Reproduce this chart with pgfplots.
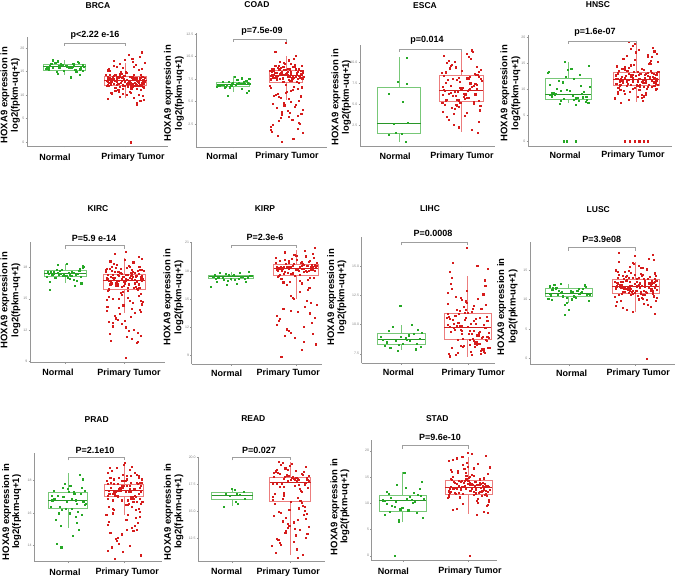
\documentclass[border=0pt]{standalone}
\usepackage{fontspec}
\setmainfont{Liberation Sans}
\usepackage{pgfplots}
\pgfplotsset{compat=1.18}
\usepgfplotslibrary{statistics}
\definecolor{ptgreen}{RGB}{38,168,38}
\definecolor{ptred}{RGB}{214,28,28}
\definecolor{bxgreen}{RGB}{120,200,120}
\definecolor{bxred}{RGB}{236,125,125}
\definecolor{mdgreen}{RGB}{40,150,40}
\definecolor{mdred}{RGB}{205,30,30}
\definecolor{axgray}{RGB}{150,150,150}
\pgfplotsset{
 panel/.style={scale only axis, anchor=south west,
   axis x line*=bottom, axis y line*=left,
   axis line style={axgray, line width=0.6pt, -},
   every tick/.style={axgray, line width=0.4pt},
   major tick length=1.5pt, tick align=outside,
   xtick={1,2}, xticklabels={,,},
   yticklabel style={font=\fontsize{3.5}{4}\selectfont, text=gray, inner sep=1pt},
   clip=false},
 nb/.style={draw=bxgreen, line width=0.6pt, boxplot/every median/.style={draw=mdgreen, line width=0.8pt}},
 tb/.style={draw=bxred, line width=0.6pt, boxplot/every median/.style={draw=mdred, line width=0.8pt}},
 npts/.style={only marks, mark=square*, mark size=0.55pt, color=ptgreen, mark options={line width=0.05pt}},
 tpts/.style={only marks, mark=square*, mark size=0.55pt, color=ptred, mark options={line width=0.05pt}},
}
\newcommand{\nbox}[6]{\addplot[nb, boxplot prepared={draw direction=y, draw position=1, median=#1, lower quartile=#2, upper quartile=#3, lower whisker=#4, upper whisker=#5, box extend=#6, whisker extend=0}] coordinates {};}
\newcommand{\tbox}[6]{\addplot[tb, boxplot prepared={draw direction=y, draw position=2, median=#1, lower quartile=#2, upper quartile=#3, lower whisker=#4, upper whisker=#5, box extend=#6, whisker extend=0}] coordinates {};}
\begin{document}
\begin{tikzpicture}
\useasboundingbox (0,0) rectangle (676pt,-577pt);

% ---------------- BRCA
\begin{axis}[panel, at={(27pt,-146pt)}, width=141pt, height=109pt, xmin=0.385, xmax=2.70, ymin=-0.85, ymax=22.3, ytick={0,5,10,15,20}, yticklabels={0,5,10,15,20}]
\nbox{16.0}{15.3}{16.6}{14.3}{17.4}{0.70}
\tbox{13.0}{12.1}{14.0}{9.3}{16.8}{0.70}
\addplot[npts] coordinates {(0.72,16.1)(1.11,15.8)(0.96,16.4)(1.25,15.5)(0.83,16.9)(1.06,16.0)(1.30,15.2)(0.78,16.6)(1.15,16.2)(0.91,15.9)(1.21,17.1)(0.69,15.6)(1.02,16.3)(0.87,14.9)(1.27,16.0)(0.94,16.7)(1.18,15.4)(0.75,16.2)(1.08,15.8)(0.81,17.4)(1.29,16.5)(0.99,15.1)(1.13,16.1)(0.73,15.7)(1.23,16.8)(0.89,14.6)(1.04,16.3)(0.80,15.9)(1.31,16.0)(0.93,16.5)(1.16,15.3)(0.76,16.2)(1.10,13.8)(0.85,16.9)(1.26,15.6)(0.97,16.4)(1.19,15.0)(0.71,16.1)(1.07,15.8)(0.88,17.2)(1.14,16.6)(0.74,15.5)(1.03,16.0)(1.24,14.3)(0.90,16.3)};
\addplot[tpts] coordinates {(1.72,13.2)(2.11,12.5)(1.96,13.8)(2.25,12.1)(1.83,14.3)(2.06,12.9)(2.30,11.6)(1.78,13.5)(2.15,12.7)(1.91,14.0)
(2.21,13.1)(1.69,11.9)(2.02,12.4)(1.87,13.7)(2.27,12.2)(1.94,14.5)(2.18,13.0)(1.75,12.6)(2.08,11.3)(1.81,13.4)
(2.29,12.8)(1.99,14.1)(2.13,12.0)(1.73,13.6)(2.23,12.3)(1.89,13.9)(2.04,11.7)(1.80,13.3)(2.31,12.9)(1.93,14.6)
(2.16,12.5)(1.76,13.0)(2.10,11.4)(1.85,13.8)(2.26,12.7)(1.97,14.2)(2.19,12.1)(1.71,13.5)(2.07,12.4)(1.88,11.1)
(2.14,13.2)(1.74,14.4)(2.03,12.6)(2.24,13.7)(1.90,11.8)(1.70,12.9)(2.19,13.4)(1.95,12.2)(2.28,14.0)(1.82,13.1)
(2.09,11.5)(1.77,12.8)(2.32,13.6)(1.86,12.3)(2.01,14.7)(2.20,13.0)(1.72,12.0)(2.12,13.3)(1.92,12.6)(2.25,11.2)
(1.79,13.9)(2.05,12.4)(2.17,13.5)(1.68,14.3)(2.22,12.7)(1.98,11.9)(1.84,13.1)(2.29,12.5)(1.89,13.8)(2.08,12.1)
(1.74,15.2)(2.14,16.0)(2.27,15.6)(1.81,17.3)(2.00,14.9)(1.91,16.6)(2.23,18.2)(1.70,15.3)(2.11,17.8)(1.96,15.9)
(1.80,16.3)(2.26,19.1)(1.92,15.0)(2.12,17.0)(2.31,16.8)(1.73,15.5)(2.05,18.6)(1.86,16.1)(2.21,15.4)(1.98,17.5)
(2.16,16.4)(1.70,15.1)(2.09,10.6)(2.28,9.8)(1.83,10.9)(1.95,10.2)(2.24,8.9)(1.77,10.4)(2.13,9.5)(1.89,10.8)
(2.02,10.0)(2.30,9.1)(1.75,10.5)(2.18,8.3)(1.91,9.7)(2.07,10.7)(1.71,9.3)(2.22,10.1)(2.19,7.9)(2.08,0.0)
(1.77,13.4)(2.03,12.2)(2.26,13.9)(1.86,12.8)(2.12,11.8)(1.94,13.1)(2.30,12.6)(1.71,12.3)(2.07,14.0)(1.83,11.6)
(2.18,13.7)(1.98,12.9)(2.22,11.9)(1.75,13.2)(2.09,12.7)(1.90,14.2)(2.29,13.3)(1.80,12.4)(2.15,13.6)(1.96,11.4)};
\addplot[tpts] coordinates {(1.73,12.7)(2.08,13.9)(2.27,12.4)(1.85,13.3)(2.16,12.0)(1.93,13.6)(2.31,13.0)(1.69,13.1)(2.04,11.9)(1.80,14.1)
(2.20,12.8)(1.97,13.4)(2.25,14.3)(1.76,12.2)(2.11,13.8)(1.88,12.5)(2.29,11.7)(1.71,14.0)(2.02,13.2)(1.84,11.5)
(2.14,14.4)(1.95,12.1)(2.23,13.5)(1.78,12.9)(2.06,12.6)(1.90,14.6)(2.18,11.3)(1.74,13.7)(2.10,12.3)(1.99,13.0)};
\end{axis}

% ---------------- COAD
\begin{axis}[panel, at={(196pt,-147pt)}, width=131pt, height=114pt, xmin=0.30, xmax=2.77, ymin=-0.06, ymax=12.6, ytick={2.5,5,7.5,10,12.5}, yticklabels={2.5,5.0,7.5,10.0,12.5}]
\nbox{6.94}{6.72}{7.17}{6.0}{7.8}{0.62}
\tbox{7.9}{7.13}{8.42}{5.2}{10.0}{0.62}
\addplot[npts] coordinates {(0.72,6.9)(1.11,7.1)(0.96,6.8)(1.25,7.3)(0.83,6.6)(1.06,7.0)(1.30,7.5)(0.78,6.9)(1.15,6.4)(0.91,7.2)(1.21,7.0)(0.69,6.7)(1.02,7.8)(0.87,6.9)(1.27,7.1)(0.94,6.5)(1.18,7.0)(0.75,6.8)(1.08,7.4)(0.81,6.9)(1.29,6.2)(0.99,7.1)(1.13,7.0)(0.73,6.8)(1.23,7.3)(0.89,5.7)(1.04,6.9)(0.80,7.2)(1.31,7.0)(0.93,6.6)(1.16,7.6)(0.76,6.9)(1.10,7.1)(0.85,6.7)(1.26,6.0)(0.97,7.0)(1.19,7.2)(0.71,6.8)(1.07,7.4)(0.88,6.9)};
\addplot[tpts] coordinates {(1.72,8.0)(2.11,7.6)(1.96,8.5)(2.25,7.9)(1.83,8.8)(2.06,7.3)(2.30,8.2)(1.78,7.7)(2.15,9.1)(1.91,8.1)(2.21,7.5)(1.69,8.4)(2.02,7.8)(1.87,9.4)(2.27,8.0)(1.94,7.2)(2.18,8.6)(1.75,7.9)(2.08,8.3)(1.81,7.4)(2.29,9.0)(1.99,8.1)(2.13,7.7)(1.73,8.7)(2.23,7.1)(1.89,8.2)(2.04,9.6)(1.80,7.8)(2.31,8.4)(1.93,7.6)(2.16,8.9)(1.76,8.0)(2.10,7.3)(1.85,8.5)(2.26,7.9)(1.97,9.2)(2.19,8.2)(1.71,7.5)(2.07,8.6)(1.88,8.1)
(2.14,9.8)(1.74,7.7)(2.03,8.3)(2.24,7.9)(1.90,8.8)(1.70,7.4)(2.19,8.0)(1.95,9.3)(2.28,8.4)(1.82,7.6)(2.09,8.1)(1.77,8.7)(2.32,7.8)(1.86,9.0)(2.01,8.2)(2.20,7.2)(1.72,8.5)(2.12,7.9)(1.92,8.3)(2.25,7.7)
(1.79,10.5)(1.98,11.5)(2.17,10.1)
(1.68,6.8)(2.22,6.4)(1.98,6.9)(1.84,5.9)(2.29,6.6)(1.89,5.4)(2.08,6.2)(1.74,4.8)(2.14,6.7)(2.27,5.6)(1.81,4.3)(2.00,6.1)(1.91,3.6)(2.23,5.1)(1.70,6.5)(2.11,3.0)(1.96,4.6)
(1.80,5.8)(2.26,2.5)(1.92,3.9)(2.12,6.3)(2.31,4.1)(1.73,1.7)(2.05,5.3)(1.86,2.9)(2.21,3.4)(1.98,6.0)(2.16,4.4)(1.70,2.2)(2.09,5.0)(2.28,3.7)(1.83,1.2)(1.95,4.9)(2.24,2.7)(1.77,5.7)(2.13,0.9)(1.89,3.2)(2.02,4.0)(2.30,1.5)(1.75,2.4)(2.18,4.7)(1.91,0.5)(2.07,3.8)(1.71,1.9)(2.22,2.0)(1.85,5.5)(2.04,3.3)
(1.78,8.2)(2.06,7.8)(2.24,8.6)(1.88,7.5)(2.12,8.9)(1.96,8.0)(2.29,7.6)(1.73,8.3)(2.02,8.7)(1.84,7.9)};
\addplot[tpts] coordinates {(1.76,8.4)(2.12,7.7)(2.28,8.1)(1.88,8.6)(2.05,7.4)(1.94,8.9)(2.21,8.3)(1.70,7.9)(2.09,9.2)(1.82,8.2)
(2.17,7.8)(1.99,8.5)(2.30,7.5)(1.79,9.0)(2.02,8.0)};
\end{axis}

% ---------------- ESCA
\begin{axis}[panel, at={(360pt,-146pt)}, width=135pt, height=101pt, xmin=0.376, xmax=2.54, ymin=0.06, ymax=12.0, ytick={2.5,5,7.5,10}, yticklabels={2.5,5.0,7.5,10.0}]
\nbox{2.74}{1.56}{6.99}{0.56}{10.6}{0.70}
\tbox{6.67}{5.29}{8.40}{1.74}{11.4}{0.70}
\addplot[npts] coordinates {(1.12,10.53)(0.84,6.28)(0.98,7.65)(1.12,7.45)(1.06,5.37)(0.83,1.44)(0.95,1.63)(1.04,1.56)(1.10,0.56)(0.92,2.70)(1.14,2.80)};
\addplot[tpts] coordinates {(1.72,6.7)(2.11,8.1)(1.96,5.5)(2.25,7.3)(1.83,9.6)(2.06,6.2)(2.30,4.8)(1.78,7.9)(2.15,10.4)(1.91,6.0)
(2.21,8.6)(1.69,5.2)(2.02,7.0)(1.87,3.9)(2.27,8.9)(1.94,6.5)(2.18,11.2)(1.75,7.6)(2.08,5.8)(1.81,9.2)
(2.29,4.4)(1.99,6.9)(2.13,8.3)(1.73,5.0)(2.23,7.4)(1.89,10.0)(2.04,6.3)(1.80,3.2)(2.31,8.0)(1.93,5.6)
(2.16,7.1)(1.76,9.9)(2.10,6.6)(1.85,4.6)(2.26,8.5)(1.97,7.7)(2.19,5.3)(1.71,10.8)(2.07,6.1)(1.88,2.6)
(2.14,7.5)(1.74,8.8)(2.03,5.9)(2.24,6.8)(1.90,9.4)(1.70,4.1)(2.19,7.2)(1.95,8.2)(2.28,5.4)(1.82,6.4)
(2.09,11.0)(1.77,3.5)(2.32,7.8)(1.86,6.0)(2.01,9.0)(2.20,5.1)(1.72,8.4)(2.12,6.7)(1.92,4.9)(2.25,7.3)
(1.79,10.2)(2.05,5.7)(2.17,2.0)(1.68,8.7)(2.22,6.2)(1.98,7.0)(1.84,9.7)(2.29,4.3)(1.89,6.5)(2.08,8.1)
(1.74,5.5)(2.14,7.6)(2.27,3.0)(1.81,9.3)(2.00,6.9)(1.91,5.0)(2.23,8.5)(1.70,7.1)(2.11,10.6)(1.96,4.7)
(1.80,6.3)(2.26,1.7)(1.92,7.9)(2.12,5.8)(2.31,9.1)(1.73,6.6)(2.05,3.7)(1.86,8.0)(2.21,7.4)(1.98,5.2)
(2.16,11.4)(1.70,6.1)(2.09,4.0)(2.28,8.3)(1.83,7.2)(1.95,2.3)(2.24,9.5)(1.77,5.6)(2.13,6.8)(1.89,4.5)};
\end{axis}

% ---------------- HNSC
\begin{axis}[panel, at={(528pt,-146pt)}, width=144pt, height=111pt, xmin=0.407, xmax=2.525, ymin=-0.97, ymax=20.5, ytick={0,5,10,15,20}, yticklabels={0,5,10,15,20}]
\nbox{9.0}{8.07}{12.05}{7.3}{15.3}{0.68}
\tbox{11.86}{10.8}{13.3}{7.6}{18.9}{0.68}
\addplot[npts] coordinates {(0.72,9.0)(1.11,8.3)(0.96,12.5)(1.25,7.6)(0.83,10.2)(1.06,8.8)(1.30,14.6)(0.78,9.4)(1.15,7.9)(0.91,11.4)
(1.21,8.5)(0.69,13.2)(1.02,9.8)(0.87,7.3)(1.27,8.1)(0.94,15.3)(1.18,10.8)(0.75,8.7)(1.08,12.0)(0.81,9.1)
(1.29,7.5)(0.99,13.8)(1.13,8.4)(0.73,11.0)(1.23,9.6)(0.89,7.8)(1.04,14.1)(0.80,8.9)(1.31,10.5)(0.93,8.2)
(1.16,12.8)(0.76,9.3)(1.10,7.1)(0.85,11.7)(1.26,8.6)(0.97,10.0)(1.19,9.2)(0.71,13.5)(1.07,8.0)(0.88,9.7)
(0.93,0)(0.97,0)(1.11,0)};
\addplot[tpts] coordinates {(1.72,12.1)(2.11,10.6)(1.96,14.8)(2.25,11.4)(1.83,9.2)(2.06,13.0)(2.30,16.9)(1.78,11.8)(2.15,10.1)(1.91,12.7)
(2.21,15.5)(1.69,11.1)(2.02,8.6)(1.87,13.6)(2.27,12.3)(1.94,18.4)(2.18,10.9)(1.75,11.6)(2.08,14.1)(1.81,9.7)
(2.29,12.9)(1.99,17.2)(2.13,11.3)(1.73,10.4)(2.23,13.3)(1.89,8.0)(2.04,12.0)(1.80,15.9)(2.31,11.0)(1.93,12.6)
(2.16,16.3)(1.76,9.9)(2.10,13.8)(1.85,11.5)(2.26,10.7)(1.97,18.9)(2.19,12.2)(1.71,14.5)(2.07,8.9)(1.88,11.9)
(2.14,13.1)(1.74,10.3)(2.03,17.7)(2.24,12.4)(1.90,9.5)(1.70,11.2)(2.19,15.1)(1.95,12.8)(2.28,10.0)(1.82,14.3)
(2.09,11.7)(1.77,7.5)(2.32,13.4)(1.86,16.6)(2.01,10.8)(2.20,12.5)(1.72,9.1)(2.12,11.3)(1.92,17.9)(2.25,12.0)
(1.79,14.0)(2.05,10.5)(2.17,13.2)(1.68,8.3)(2.22,11.8)(1.98,15.7)(1.84,12.6)(2.29,10.2)(1.89,19.2)(2.08,11.5)
(1.74,13.7)(2.14,9.3)(2.27,12.2)(1.81,16.0)(2.00,11.0)(1.91,14.7)(2.23,10.6)(1.70,12.9)(2.11,8.7)(1.96,13.5)
(1.80,11.4)(2.26,17.4)(1.92,10.9)(2.12,12.3)(2.31,15.3)(1.73,9.6)(2.05,13.0)(1.86,11.9)(2.21,14.9)(1.98,10.4)
(2.16,16.8)(1.70,12.7)(2.09,7.8)(2.28,11.1)(1.83,13.9)(1.95,10.1)(2.24,18.1)(1.77,12.1)(2.13,9.0)(1.89,14.2)
(2.02,11.6)(2.30,13.3)(1.75,10.7)(2.18,15.0)(1.91,12.4)(2.07,8.4)(1.71,11.2)(2.22,16.4)(1.85,13.6)(2.04,10.0)
(1.78,12.4)(2.10,11.9)(2.25,13.0)(1.87,11.2)(2.03,12.9)(1.94,11.6)(2.17,12.6)(1.72,13.2)(2.29,11.7)(1.83,12.2)
(1.83,0)(1.90,0)(1.97,0)(2.04,0)(2.11,0)(2.17,0)};
\addplot[tpts] coordinates {(1.76,11.0)(2.12,12.8)(2.28,11.5)(1.88,13.1)(2.05,10.9)(1.94,12.3)(2.21,13.6)(1.70,12.0)(2.09,11.3)(1.82,13.9)
(2.17,10.6)(1.99,12.6)(2.30,12.1)(1.79,11.7)(2.02,13.4)(1.86,10.8)(2.24,12.4)(1.73,13.0)(2.14,11.8)(1.91,12.9)};
\end{axis}

% ---------------- KIRC
\begin{axis}[panel, at={(30pt,-362.3pt)}, width=135pt, height=120.6pt, xmin=0.407, xmax=2.69, ymin=8.94, ymax=20.44, ytick={9,12,15,18}, yticklabels={9,12,15,18}]
\nbox{17.43}{17.17}{17.68}{16.5}{18.3}{0.71}
\tbox{16.72}{15.9}{17.36}{13.6}{18.86}{0.71}
\addplot[npts] coordinates {(0.72,17.4)(1.11,17.6)(0.96,17.2)(1.25,17.9)(0.83,17.0)(1.06,17.5)(1.30,18.2)(0.78,17.3)(1.15,16.8)(0.91,17.7)
(1.21,17.4)(0.69,17.1)(1.02,18.4)(0.87,17.5)(1.27,16.5)(0.94,17.8)(1.18,17.3)(0.75,17.6)(1.08,16.9)(0.81,17.4)
(1.29,18.0)(0.99,17.2)(1.13,17.5)(0.73,15.9)(1.23,17.7)(0.89,17.3)(1.04,17.0)(0.80,17.6)(1.31,18.1)(0.93,17.4)
(1.16,16.3)(0.76,17.5)(1.10,17.2)(0.85,17.8)(1.26,17.1)(0.97,17.4)(1.19,16.7)(0.71,17.6)(1.07,17.3)(0.88,18.3)
(1.14,17.5)(0.74,16.6)(1.03,17.2)(1.24,17.7)(0.90,17.4)};
\addplot[tpts] coordinates {(1.72,16.9)(2.11,17.5)(1.96,16.2)(2.25,18.1)(1.83,17.0)(2.06,15.8)(2.30,17.8)(1.78,16.5)(2.15,18.5)(1.91,17.2)
(2.21,16.0)(1.69,17.6)(2.02,16.7)(1.87,18.3)(2.27,17.1)(1.94,15.6)(2.18,16.8)(1.75,17.9)(2.08,16.4)(1.81,17.3)
(2.29,18.8)(1.99,16.6)(2.13,17.4)(1.73,15.9)(2.23,17.7)(1.89,16.3)(2.04,18.0)(1.80,17.0)(2.31,16.9)(1.93,17.5)
(2.16,16.1)(1.76,18.6)(2.10,17.2)(1.85,16.5)(2.26,17.8)(1.97,15.7)(2.19,17.1)(1.71,16.8)(2.07,18.2)(1.88,16.4)
(2.14,17.6)(1.74,16.0)(2.03,17.3)(2.24,19.0)(1.90,16.7)(1.70,17.9)(2.19,16.2)(1.95,17.4)(2.28,15.5)(1.82,18.4)
(2.09,17.0)(1.77,16.6)(2.32,17.7)(1.86,16.3)(2.01,18.7)(2.20,17.2)(1.72,15.8)(2.12,16.9)(1.92,17.5)(2.25,16.1)
(1.79,18.1)(2.05,17.3)(2.17,16.5)(1.68,17.8)(2.22,15.9)(1.98,17.1)(1.84,19.3)(2.29,16.7)(1.89,17.6)(2.08,16.4)
(1.74,15.2)(2.14,14.6)(2.27,13.8)(1.81,15.0)(2.00,12.9)(1.91,14.2)(2.23,11.8)(1.70,14.9)(2.11,13.3)(1.96,15.4)
(1.80,12.4)(2.26,14.0)(1.92,13.6)(2.12,11.2)(2.31,14.7)(1.73,12.8)(2.05,15.1)(1.86,13.1)(2.21,10.8)(1.98,14.4)
(2.16,12.1)(1.70,13.9)(2.09,14.8)(2.28,11.5)(1.83,13.4)(1.95,12.6)(2.24,15.3)(1.77,11.0)(2.13,14.1)(1.89,13.0)
(2.02,12.3)(2.30,14.5)(1.75,11.7)(2.18,13.7)(1.91,15.0)(2.07,12.0)(1.71,14.3)(2.22,10.9)(1.85,13.2)(2.04,11.4)
(2.27,14.8)(1.81,12.7)(2.03,19.5)(2.02,9.4)
(1.77,17.1)(2.06,16.8)(2.24,17.4)(1.87,16.6)(2.12,17.2)(1.95,16.9)(2.30,17.0)(1.72,17.3)(2.01,16.5)(1.84,17.6)};
\addplot[tpts] coordinates {(1.76,16.4)(2.12,17.8)(2.28,16.9)(1.88,17.3)(2.05,16.1)(1.94,17.9)(2.21,16.6)(1.70,17.0)(2.09,18.1)(1.82,16.8)
(2.17,17.5)(1.99,16.3)(2.30,17.2)(1.79,17.7)(2.02,16.9)(1.86,18.0)(2.24,16.4)(1.73,16.7)(2.14,17.1)(1.91,17.6)};
\end{axis}

% ---------------- KIRP
\begin{axis}[panel, at={(191.7pt,-364pt)}, width=130.3pt, height=122.3pt, xmin=0.395, xmax=2.40, ymin=8.07, ymax=21.1, ytick={9,12,15,18,21}, yticklabels={9,12,15,18,21}]
\nbox{17.36}{17.18}{17.54}{16.9}{17.9}{0.69}
\tbox{18.28}{17.47}{18.71}{15.0}{20.2}{0.69}
\addplot[npts] coordinates {(0.72,17.4)(1.11,17.2)(0.96,17.6)(1.25,17.3)(0.83,17.8)(1.06,17.1)(1.30,17.5)(0.78,16.9)(1.15,17.4)(0.91,17.7)
(1.21,17.2)(0.69,16.3)(1.02,17.5)(0.87,17.3)(1.27,17.9)(0.94,17.0)(1.18,17.4)(0.75,17.6)(1.08,16.6)(0.81,17.3)
(1.29,17.5)(0.99,17.2)(1.13,17.8)(0.73,17.4)(1.23,16.9)(0.89,17.1)(1.04,17.6)(0.80,17.3)(1.31,17.5)(0.93,16.5)
(1.16,17.4)(0.76,17.2)};
\addplot[tpts] coordinates {(1.72,18.3)(2.11,17.9)(1.96,18.8)(2.25,18.1)(1.83,19.2)(2.06,17.6)(2.30,18.5)(1.78,18.0)(2.15,19.6)(1.91,18.4)
(2.21,17.3)(1.69,18.9)(2.02,18.2)(1.87,17.8)(2.27,19.4)(1.94,18.6)(2.18,17.1)(1.75,18.3)(2.08,19.0)(1.81,17.7)
(2.29,18.7)(1.99,18.1)(2.13,20.2)(1.73,17.5)(2.23,18.4)(1.89,19.1)(2.04,18.0)(1.80,16.8)(2.31,18.6)(1.93,19.3)
(2.16,17.9)(1.76,18.2)(2.10,18.8)(1.85,16.5)(2.26,18.5)(1.97,19.7)(2.19,18.0)(1.71,17.4)(2.07,18.9)(1.88,18.3)
(2.14,19.5)(1.74,17.6)(2.03,18.1)(2.24,18.7)(1.90,16.9)(1.70,18.4)(2.19,19.0)(1.95,17.8)(2.28,18.6)(1.82,20.0)
(2.09,18.2)(1.77,17.2)(2.32,18.9)(1.86,18.5)(2.01,19.2)(2.20,16.2)(1.72,18.0)(2.12,18.7)(1.92,17.7)(2.25,19.8)
(1.79,18.3)(2.05,17.0)(2.17,18.6)(1.68,19.4)(2.22,18.1)(1.98,17.5)(1.84,18.8)(2.29,20.5)(1.89,18.4)(2.08,16.7)
(1.74,19.1)(2.14,18.0)(2.27,17.3)(1.81,18.5)(2.00,19.6)(1.91,15.4)(2.23,14.6)(1.70,13.2)(2.11,12.1)(1.96,15.0)
(1.80,14.0)(2.26,11.3)(1.92,13.8)(2.12,10.5)(2.31,14.4)(1.73,12.7)(2.05,15.8)(1.86,11.8)(2.21,13.5)(1.98,10.9)
(2.16,14.8)(1.70,12.3)(2.09,9.6)(2.28,13.0)(1.83,11.1)(1.95,15.2)(2.24,12.5)(1.77,8.9)(2.13,14.2)(1.89,11.6)
(2.02,13.7)(2.30,10.2)(1.75,12.9)(2.18,16.0)(1.91,11.4)};
\addplot[tpts] coordinates {(1.76,18.5)(2.12,18.2)(2.28,18.0)(1.88,18.9)(2.05,18.4)(1.94,17.7)(2.21,19.1)(1.70,18.1)(2.09,18.6)(1.82,17.9)};
\end{axis}

% ---------------- LIHC
\begin{axis}[panel, at={(361.7pt,-363.3pt)}, width=133.3pt, height=126.6pt, xmin=0.404, xmax=2.41, ymin=6.68, ymax=17.5, ytick={7.5,10,12.5,15}, yticklabels={7.5,10.0,12.5,15.0}]
\nbox{8.73}{8.30}{9.25}{7.8}{9.96}{0.71}
\tbox{9.76}{8.76}{10.96}{7.24}{14.15}{0.71}
\addplot[npts] coordinates {(0.72,8.7)(1.11,9.1)(0.96,8.3)(1.25,9.6)(0.83,8.0)(1.06,8.9)(1.30,9.3)(0.78,8.5)(1.15,10.0)(0.91,8.6)
(1.21,7.9)(0.69,9.0)(1.02,8.4)(0.87,9.8)(1.27,8.8)(0.94,7.8)(1.18,9.2)(0.75,8.2)(1.08,8.7)(0.81,9.5)
(1.29,8.1)(0.99,9.0)(1.13,8.6)(0.98,11.6)(1.23,8.4)};
\addplot[tpts] coordinates {(1.72,9.8)(2.11,8.4)(1.96,10.6)(2.25,7.6)(1.83,11.3)(2.06,9.2)(2.30,8.0)(1.78,10.1)(2.15,12.2)(1.91,9.5)
(2.21,7.9)(1.69,10.9)(2.02,8.7)(1.87,9.9)(2.27,11.7)(1.94,8.2)(2.18,9.4)(1.75,13.1)(2.08,10.3)(1.81,7.4)
(2.29,9.0)(1.99,11.0)(2.13,8.5)(1.73,10.5)(2.23,12.6)(1.89,9.6)(2.04,7.7)(1.80,10.8)(2.31,8.9)(1.93,11.5)
(2.16,9.3)(1.76,14.0)(2.10,8.1)(1.85,10.2)(2.26,9.7)(1.97,12.0)(2.19,7.5)(1.71,10.7)(2.07,8.8)(1.88,11.2)
(2.14,9.1)(1.74,13.5)(2.03,8.3)(2.24,10.0)(1.90,9.9)(1.70,11.8)(2.19,7.8)(1.95,10.4)(2.28,8.6)(1.82,12.4)
(2.09,9.5)(1.77,15.3)(2.32,8.0)(1.86,10.9)(2.01,9.2)(2.20,11.4)(1.72,7.3)(2.12,10.1)(1.92,8.8)(2.25,13.8)
(1.79,9.7)(2.05,11.1)(2.17,8.4)(1.68,10.6)(2.22,9.0)(1.98,12.9)(1.84,7.6)(2.29,10.3)(1.89,8.2)(2.08,11.6)
(1.74,9.4)(2.14,15.0)(2.27,8.7)(1.81,10.8)(2.00,9.8)(1.91,12.1)(2.23,7.9)(1.70,10.0)(2.11,8.5)(1.96,11.3)
(1.80,9.6)(2.26,13.3)(1.92,8.1)(2.12,10.5)(2.31,9.3)(1.73,14.5)(2.05,7.4)(1.86,10.2)(2.21,8.9)(1.98,11.9)
(2.16,9.1)(1.70,12.7)(2.09,8.6)(2.28,10.7)(1.83,9.9)(1.95,11.0)(2.24,7.7)(1.77,10.4)(2.13,8.3)(1.89,12.3)
(2.02,9.5)(2.30,14.8)(1.75,8.0)(2.18,10.6)(1.91,9.2)(2.07,11.4)(1.71,7.5)(1.98,16.6)(1.85,8.7)(2.04,10.1)};
\end{axis}

% ---------------- LUSC
\begin{axis}[panel, at={(530pt,-364pt)}, width=145pt, height=122.3pt, xmin=0.42, xmax=2.59, ymin=-0.9, ymax=19.8, ytick={0,5,10,15}, yticklabels={0,5,10,15}]
\nbox{10.98}{10.59}{11.89}{9.36}{12.7}{0.70}
\tbox{12.23}{11.15}{13.46}{7.9}{16.4}{0.70}
\addplot[npts] coordinates {(0.72,11.0)(1.11,11.6)(0.96,10.4)(1.25,12.2)(0.83,10.8)(1.06,11.3)(1.30,9.8)(0.78,12.5)(1.15,11.1)(0.91,10.6)
(1.21,11.8)(0.69,10.2)(1.02,11.4)(0.87,12.7)(1.27,10.9)(0.94,9.2)(1.18,11.2)(0.75,11.7)(1.08,10.5)(0.81,12.0)
(1.29,11.0)(0.99,8.3)(1.13,11.5)(0.73,10.7)(1.23,12.4)(0.89,11.3)(1.04,10.1)(0.80,11.9)(1.31,10.8)(0.93,7.5)
(1.16,11.1)(0.76,12.1)(1.10,10.3)(0.85,11.6)(1.26,10.9)(0.97,9.5)(1.19,11.4)(0.71,12.3)(1.07,10.6)(0.88,11.2)
(1.14,11.8)(0.74,10.0)(1.03,11.5)(1.24,12.6)(0.90,10.7)};
\addplot[tpts] coordinates {(1.72,12.3)(2.11,10.9)(1.96,13.8)(2.25,11.6)(1.83,14.7)(2.06,12.0)(2.30,9.8)(1.78,13.1)(2.15,11.3)(1.91,15.6)
(2.21,12.7)(1.69,10.5)(2.02,13.5)(1.87,11.9)(2.27,16.8)(1.94,12.4)(2.18,9.2)(1.75,14.2)(2.08,11.0)(1.81,13.0)
(2.29,12.1)(1.99,17.4)(2.13,10.8)(1.73,13.7)(2.23,11.5)(1.89,14.9)(2.04,12.6)(1.80,8.6)(2.31,13.3)(1.93,11.8)
(2.16,15.2)(1.76,12.2)(2.10,10.2)(1.85,13.9)(2.26,11.4)(1.97,16.1)(2.19,12.8)(1.71,9.6)(2.07,14.4)(1.88,11.7)
(2.14,12.5)(1.74,18.0)(2.03,10.7)(2.24,13.2)(1.90,11.2)(1.70,15.0)(2.19,12.0)(1.95,8.0)(2.28,13.6)(1.82,11.9)
(2.09,14.0)(1.77,12.3)(2.32,10.4)(1.86,13.4)(2.01,11.6)(2.20,17.0)(1.72,12.9)(2.12,9.4)(1.92,14.6)(2.25,11.1)
(1.79,12.6)(2.05,15.8)(2.17,10.0)(1.68,13.1)(2.22,11.8)(1.98,14.3)(1.84,12.2)(2.29,7.6)(1.89,13.7)(2.08,11.3)
(1.74,16.5)(2.14,12.7)(2.27,10.6)(1.81,14.1)(2.00,11.5)(1.91,13.0)(2.23,12.4)(1.70,9.0)(2.11,15.4)(1.96,11.0)
(1.80,12.1)(2.26,17.7)(1.92,10.9)(2.12,13.5)(2.31,11.7)(1.73,14.8)(2.05,12.5)(1.86,8.3)(2.21,13.9)(1.98,11.2)
(2.16,15.1)(1.70,12.0)(2.09,10.3)(2.28,14.5)(1.83,11.4)(1.95,16.3)(2.24,12.8)(1.77,9.9)(2.13,13.3)(1.89,11.9)
(2.02,12.4)(2.30,14.0)(1.75,10.8)(2.18,13.6)(1.91,11.6)(2.07,15.5)(1.71,12.2)(2.22,8.8)(1.85,13.2)(2.04,10.1)
(2.27,12.9)(1.81,11.3)(2.10,14.2)(2.16,0.0)
(1.77,12.0)(2.06,12.8)(2.24,11.9)(1.87,13.3)(2.13,12.2)(1.95,11.5)(2.30,12.6)(1.73,12.9)(2.01,13.1)(1.84,11.8)};
\addplot[tpts] coordinates {(1.76,12.5)(2.12,11.6)(2.28,13.0)(1.88,12.1)(2.05,13.7)(1.94,11.3)(2.21,12.9)(1.70,11.8)(2.09,12.4)(1.82,13.5)
(2.17,11.2)(1.99,12.7)(2.30,13.3)(1.79,11.0)(2.02,12.2)(1.86,14.0)(2.24,11.7)(1.73,12.8)(2.14,13.1)(1.91,12.3)};
\end{axis}

% ---------------- PRAD
\begin{axis}[panel, at={(34.3pt,-561.7pt)}, width=127.4pt, height=108.4pt, xmin=0.404, xmax=2.67, ymin=12.99, ymax=19.69, ytick={14,16,18}, yticklabels={14,16,18}]
\nbox{16.76}{16.29}{17.28}{15.06}{18.46}{0.69}
\tbox{17.42}{17.01}{17.8}{15.88}{18.9}{0.69}
\addplot[npts] coordinates {(0.72,16.8)(1.11,17.2)(0.96,16.3)(1.25,17.6)(0.83,16.0)(1.06,16.9)(1.30,17.4)(0.78,15.6)(1.15,16.6)(0.91,17.0)
(1.21,18.4)(0.69,16.4)(1.02,17.3)(0.87,15.2)(1.27,16.7)(0.94,17.8)(1.18,16.1)(0.75,16.9)(1.08,14.6)(0.81,17.1)
(1.29,16.5)(0.99,17.5)(1.13,15.8)(0.73,16.8)(1.23,17.2)(0.89,16.2)(1.04,17.7)(0.80,14.1)(1.31,16.6)(0.93,17.0)
(1.16,15.4)(0.76,16.9)(1.10,17.3)(0.85,16.4)(1.26,18.1)(0.97,16.7)(1.19,15.0)(0.71,17.1)(1.07,16.3)(0.88,13.9)
(1.14,16.8)(0.74,17.4)(1.03,16.0)(1.24,15.9)(0.90,17.6)};
\addplot[tpts] coordinates {(1.72,17.4)(2.11,17.9)(1.96,16.8)(2.25,18.3)(1.83,17.2)(2.06,16.5)(2.30,17.7)(1.78,18.6)(2.15,17.0)(1.91,17.5)
(2.21,16.2)(1.69,18.0)(2.02,17.3)(1.87,18.8)(2.27,16.9)(1.94,17.6)(2.18,17.1)(1.75,18.2)(2.08,16.6)(1.81,17.8)
(2.29,17.4)(1.99,19.0)(2.13,16.4)(1.73,17.2)(2.23,18.4)(1.89,17.0)(2.04,17.7)(1.80,16.0)(2.31,18.1)(1.93,17.5)
(2.16,16.7)(1.76,17.9)(2.10,18.7)(1.85,17.3)(2.26,16.3)(1.97,17.6)(2.19,18.5)(1.71,17.1)(2.07,16.8)(1.88,17.4)
(2.14,18.9)(1.74,17.2)(2.03,16.5)(2.24,17.8)(1.90,18.2)(1.70,16.9)(2.19,17.5)(1.95,18.0)(2.28,16.1)(1.82,17.3)
(2.09,17.7)(1.77,18.6)(2.32,16.7)(1.86,17.4)(2.01,19.1)(2.20,17.0)(1.72,16.4)(2.12,18.3)(1.92,17.6)(2.25,17.2)
(1.79,16.8)(2.05,18.1)(2.17,17.5)(1.68,15.9)(2.22,17.9)(1.98,18.4)(1.84,17.1)(2.29,16.6)(1.89,17.8)(2.08,17.3)
(1.74,18.8)(2.14,16.9)(2.27,17.6)(1.81,16.2)(2.00,18.0)(1.91,17.4)(2.23,16.7)(1.70,18.5)(2.11,17.0)(1.96,17.7)
(1.80,16.3)(2.26,18.2)(1.92,17.5)(2.12,16.9)(2.31,17.9)(1.73,15.5)(2.05,15.0)(1.86,14.3)(2.21,15.7)(1.98,13.6)
(2.16,14.9)(1.70,15.3)(2.09,14.0)(2.28,15.8)(1.83,13.2)(1.95,14.7)(2.24,15.4)(1.77,13.9)(2.13,15.1)(1.89,14.5)
(2.02,15.6)(2.30,13.4)(1.75,14.8)(2.18,15.2)(1.91,14.1)(2.07,15.9)(1.71,13.7)(2.22,15.0)(1.85,14.4)(2.04,15.6)};
\addplot[tpts] coordinates {(1.76,17.6)(2.12,17.3)(2.28,17.9)(1.88,17.1)(2.05,18.3)(1.94,17.4)(2.21,17.0)(1.70,17.8)(2.09,17.5)(1.82,18.1)
(2.17,16.9)(1.99,17.7)(2.30,17.3)(1.79,17.2)(2.02,18.0)};
\end{axis}

% ---------------- READ
\begin{axis}[panel, at={(198.3pt,-561.7pt)}, width=126.7pt, height=105pt, xmin=0.416, xmax=2.6, ymin=10.33, ymax=20.05, ytick={12.5,15,17.5,20}, yticklabels={12.5,15.0,17.5,20.0}]
\nbox{16.44}{16.07}{16.76}{15.49}{17.19}{0.71}
\tbox{17.69}{15.95}{18.18}{10.96}{19.59}{0.71}
\addplot[npts] coordinates {(0.99,17.13)(1.04,16.97)(0.89,16.67)(1.08,16.60)(1.13,16.51)(0.96,16.44)(1.20,16.82)(1.06,15.89)(1.09,15.68)(0.85,15.43)(1.22,16.20)};
\addplot[tpts] coordinates {(1.72,18.2)(2.11,17.8)(1.96,18.9)(2.25,17.5)(1.83,19.3)(2.06,18.0)(2.30,17.2)(1.78,18.6)(2.15,17.9)(1.91,19.0)
(2.21,18.4)(1.69,17.6)(2.02,18.1)(1.87,19.5)(2.27,17.7)(1.94,18.3)(2.18,16.9)(1.75,18.8)(2.08,17.4)(1.81,18.5)
(2.29,17.9)(1.99,19.2)(2.13,18.0)(1.73,16.6)(2.23,18.7)(1.89,17.3)(2.04,18.2)(1.80,19.6)(2.31,17.8)(1.93,18.4)
(2.16,17.1)(1.76,18.9)(2.10,18.1)(1.85,17.6)(2.26,19.1)(1.97,18.3)(2.19,16.8)(1.71,18.6)(2.07,17.9)(1.88,18.0)
(2.14,17.5)(1.74,18.7)(2.03,19.4)(2.24,17.7)(1.90,18.2)(1.70,16.4)(2.19,18.5)(1.95,17.8)(2.28,18.1)(1.82,17.3)
(2.09,18.8)(1.77,17.6)(2.32,18.3)(1.86,16.2)(2.01,17.9)(2.20,15.8)(1.72,14.6)(2.12,16.3)(1.92,13.2)(2.25,15.1)
(1.79,12.4)(2.05,14.0)(2.17,16.0)(1.68,11.8)(2.22,15.5)(1.98,13.7)(1.84,14.9)(2.29,12.9)(1.89,16.5)(2.08,13.4)
(1.74,11.2)(2.14,15.3)(2.27,14.3)(1.81,12.1)(2.00,15.9)(1.91,13.0)(2.23,14.7)(1.70,16.1)(2.11,11.5)(1.96,13.9)
(1.80,15.0)(2.26,12.6)(1.92,14.4)(2.12,10.7)(2.31,13.6)(1.73,15.7)(2.05,12.2)(1.86,14.1)(2.21,11.0)(1.98,15.2)
(2.16,13.3)(1.70,16.4)(2.09,12.8)(2.28,14.8)(1.83,11.9)(1.95,13.5)(2.24,15.4)(1.77,12.5)(2.13,14.2)(1.89,16.7)};
\end{axis}

% ---------------- STAD
\begin{axis}[panel, at={(371.7pt,-560.7pt)}, width=125.3pt, height=120.7pt, xmin=0.53, xmax=2.43, ymin=-0.95, ymax=22.04, ytick={0,5,10,15,20}, yticklabels={0,5,10,15,20}]
\nbox{10.48}{8.4}{11.56}{6.48}{15.89}{0.71}
\tbox{13.02}{11.69}{14.29}{7.88}{18.86}{0.71}
\addplot[npts] coordinates {(0.72,10.5)(1.11,11.2)(0.96,8.9)(1.25,12.8)(0.83,9.6)(1.06,10.8)(1.30,7.2)(0.78,11.9)(1.15,10.1)(0.91,13.5)
(1.21,8.3)(0.69,10.6)(1.02,15.8)(0.87,9.4)(1.27,11.4)(0.94,6.6)(1.18,10.3)(0.75,12.3)(1.08,8.7)(0.81,11.0)
(1.29,14.2)(0.99,9.1)(1.13,10.7)(0.73,7.8)(1.23,11.6)(0.89,10.4)(1.04,13.0)(0.80,8.5)(1.31,10.9)(0.93,6.9)
(1.16,12.1)(0.76,9.9)(0.87,0.0)};
\addplot[tpts] coordinates {(1.72,13.1)(2.11,11.8)(1.96,14.6)(2.25,12.4)(1.83,16.2)(2.06,13.5)(2.30,10.7)(1.78,14.0)(2.15,12.0)(1.91,17.3)
(2.21,13.3)(1.69,11.2)(2.02,15.1)(1.87,12.7)(2.27,9.5)(1.94,14.3)(2.18,13.0)(1.75,18.4)(2.08,11.6)(1.81,12.9)
(2.29,15.7)(1.99,13.8)(2.13,10.2)(1.73,12.3)(2.23,14.8)(1.89,13.2)(2.04,19.5)(1.80,11.9)(2.31,12.6)(1.93,16.6)
(2.16,13.6)(1.76,8.8)(2.10,14.1)(1.85,12.1)(2.26,13.4)(1.97,17.8)(2.19,11.4)(1.71,12.8)(2.07,15.3)(1.88,13.0)
(2.14,10.9)(1.74,14.5)(2.03,12.5)(2.24,13.7)(1.90,18.9)(1.70,11.7)(2.19,12.2)(1.95,15.9)(2.28,13.3)(1.82,9.0)
(2.09,14.2)(1.77,12.9)(2.32,16.9)(1.86,11.3)(2.01,13.5)(2.20,12.4)(1.72,14.7)(2.12,10.5)(1.92,13.1)(2.25,19.0)
(1.79,12.0)(2.05,15.5)(2.17,13.9)(1.68,11.1)(2.22,12.7)(1.98,17.0)(1.84,13.4)(2.29,8.2)(1.89,14.4)(2.08,12.3)
(1.74,16.0)(2.14,13.6)(2.27,11.5)(1.81,12.8)(2.00,14.9)(1.91,10.0)(2.23,13.2)(1.70,18.1)(2.11,12.1)(1.96,15.2)
(1.80,13.0)(2.26,11.9)(1.92,14.0)(2.12,7.8)(2.31,12.6)(1.73,16.4)(2.05,13.7)(1.86,11.0)(2.21,12.4)(1.98,19.7)
(2.16,14.6)(1.70,12.2)(2.09,13.3)(2.28,9.8)(1.83,15.8)(1.95,12.9)(2.24,11.6)(1.77,14.1)(2.13,17.5)(1.89,13.1)
(2.02,12.5)(2.30,10.4)(1.75,15.0)(2.18,13.8)(1.91,11.8)(2.07,16.7)(1.71,12.0)(2.22,8.5)(1.85,14.3)(2.04,13.5)
(2.27,11.4)(1.81,18.6)(2.10,12.7)(2.02,0.0)};
\addplot[tpts] coordinates {(1.76,12.8)(2.12,13.6)(2.28,12.3)(1.88,14.1)(2.05,12.9)(1.94,13.4)(2.21,14.0)(1.70,12.5)(2.09,13.1)(1.82,13.8)
(2.17,12.2)(1.99,14.4)(2.30,13.2)(1.79,12.0)(2.02,13.9)};
\end{axis}

% ---------------- annotations (pixel coordinates, y downward)
\begin{scope}[x=1pt, y=-1pt,
  ttl/.style={font=\fontsize{8.5}{10}\selectfont\bfseries, inner sep=0pt},
  pv/.style={font=\fontsize{9}{10}\selectfont\bfseries, inner sep=0pt},
  xl/.style={font=\fontsize{9}{10}\selectfont\bfseries, inner sep=0pt},
  yl/.style={font=\fontsize{9.5}{10}\selectfont\bfseries, rotate=90, inner sep=0pt},
  brk/.style={draw=gray!75, line width=0.6pt}]
% BRCA
\node[ttl] at (98,6) {BRCA};
\node[pv] at (95,35) {p<2.22 e-16};
\draw[brk] (64.5,46)--(64.5,43)--(125.5,43)--(125.5,46);
\node[xl] at (55,157) {Normal};
\node[xl] at (133,157) {Primary Tumor};
\node[yl] at (5,95) {HOXA9 expression in};
\node[yl] at (15.5,95) {log2(fpkm-uq+1)};
% COAD
\node[ttl] at (257,5) {COAD};
\node[pv] at (262,31) {p=7.5e-09};
\draw[brk] (233,42)--(233,39)--(286,39)--(286,42);
\node[xl] at (222,156) {Normal};
\node[xl] at (287,156) {Primary Tumor};
\node[yl] at (168.5,93) {HOXA9 expression in};
\node[yl] at (179.5,93) {log2(fpkm-uq+1)};
% ESCA
\node[ttl] at (425,6) {ESCA};
\node[pv] at (427,40) {p=0.014};
\draw[brk] (399,52)--(399,49)--(461.5,49)--(461.5,52);
\node[xl] at (395,156) {Normal};
\node[xl] at (462,156) {Primary Tumor};
\node[yl] at (336,97) {HOXA9 expression in};
\node[yl] at (346.5,97) {log2(fpkm-uq+1)};
% HNSC
\node[ttl] at (598,5) {HNSC};
\node[pv] at (595,32) {p=1.6e-07};
\draw[brk] (568.3,44)--(568.3,41)--(636.3,41)--(636.3,44);
\node[xl] at (565,155) {Normal};
\node[xl] at (633,155) {Primary Tumor};
\node[yl] at (505,93) {HOXA9 expression in};
\node[yl] at (516,93) {log2(fpkm-uq+1)};
% KIRC
\node[ttl] at (98,209) {KIRC};
\node[pv] at (94,238) {P=5.9 e-14};
\draw[brk] (65,248.7)--(65,245.7)--(124,245.7)--(124,248.7);
\node[xl] at (58,372.7) {Normal};
\node[xl] at (129,373) {Primary Tumor};
\node[yl] at (5,300) {HOXA9 expression in};
\node[yl] at (16,300) {log2(fpkm-uq+1)};
% KIRP
\node[ttl] at (265,209) {KIRP};
\node[pv] at (265,237.7) {P=2.3e-6};
\draw[brk] (231,248)--(231,245)--(296,245)--(296,248);
\node[xl] at (226.7,373.3) {Normal};
\node[xl] at (288.3,373) {Primary Tumor};
\node[yl] at (168,297) {HOXA9 expression in};
\node[yl] at (179,297) {log2(fpkm-uq+1)};
% LIHC
\node[ttl] at (430,209) {LIHC};
\node[pv] at (433,233.3) {P=0.0008};
\draw[brk] (401.3,245.3)--(401.3,242.3)--(467.7,242.3)--(467.7,245.3);
\node[xl] at (398.3,372.7) {Normal};
\node[xl] at (473.3,373) {Primary Tumor};
\node[yl] at (331.7,297) {HOXA9 expression in};
\node[yl] at (342,297) {log2(fpkm-uq+1)};
% LUSC
\node[ttl] at (598.3,209.3) {LUSC};
\node[pv] at (601.7,239) {P=3.9e08};
\draw[brk] (568.7,250.7)--(568.7,247.7)--(635.7,247.7)--(635.7,250.7);
\node[xl] at (571.7,373.3) {Normal};
\node[xl] at (638.3,373) {Primary Tumor};
\node[yl] at (501.7,306.7) {HOXA9 expression in};
\node[yl] at (513.3,306.7) {log2(fpkm-uq+1)};
% PRAD
\node[ttl] at (96.7,420) {PRAD};
\node[pv] at (95,450) {P=2.1e10};
\draw[brk] (67.8,460.3)--(67.8,457.3)--(124,457.3)--(124,460.3);
\node[xl] at (65,572.3) {Normal};
\node[xl] at (127.3,572.3) {Primary Tumor};
\node[yl] at (6.7,511.7) {HOXA9 expression in};
\node[yl] at (16.7,511.7) {log2(fpkm-uq+1)};
% READ
\node[ttl] at (253.3,418.3) {READ};
\node[pv] at (259,450) {P=0.027};
\draw[brk] (232.2,460.3)--(232.2,457.3)--(290.3,457.3)--(290.3,460.3);
\node[xl] at (226.7,571.7) {Normal};
\node[xl] at (288.3,572) {Primary Tumor};
\node[yl] at (168.3,511.7) {HOXA9 expression in};
\node[yl] at (179,511.7) {log2(fpkm-uq+1)};
% STAD
\node[ttl] at (437.3,419) {STAD};
\node[pv] at (440,437.3) {P=9.6e-10};
\draw[brk] (402.7,448.7)--(402.7,445.7)--(468.7,445.7)--(468.7,448.7);
\node[xl] at (393.3,571) {Normal};
\node[xl] at (470,571) {Primary Tumor};
\node[yl] at (335,506.7) {HOXA9 expression in};
\node[yl] at (345,506.7) {log2(fpkm-uq+1)};
\end{scope}
\end{tikzpicture}
\end{document}
